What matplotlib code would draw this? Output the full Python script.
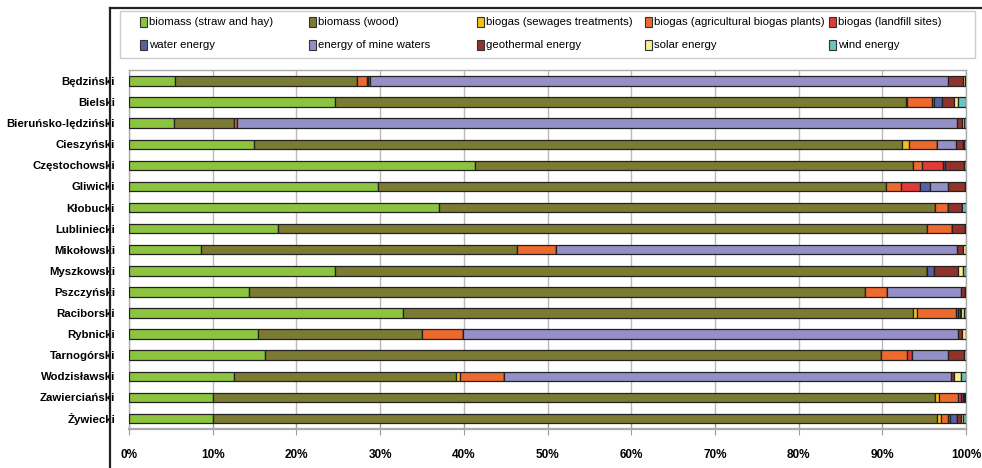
import matplotlib.pyplot as plt
from matplotlib.lines import Line2D
from matplotlib.patches import Rectangle
import numpy as np

plt.rcParams['font.family'] = ['Liberation Sans', 'DejaVu Sans']

# powiaty
districts = ['Będziński', 'Bielski', 'Bieruńsko-lędziński', 'Cieszyński', 'Częstochowski',
             'Gliwicki', 'Kłobucki', 'Lubliniecki', 'Mikołowski', 'Myszkowski', 'Pszczyński',
             'Raciborski', 'Rybnicki', 'Tarnogórski', 'Wodzisławski', 'Zawierciański', 'Żywiecki']

sources = ['biomass (straw and hay)', 'biomass (wood)', 'biogas (sewages treatments)',
           'biogas (agricultural biogas plants)', 'biogas (landfill sites)',
           'water energy', 'energy of mine waters', 'geothermal energy',
           'solar energy', 'wind energy']

colors = ['#8cc43f', '#7b7b33', '#f2c21b', '#ec6a2e', '#e23a36',
          '#5563a6', '#9490c6', '#91332b', '#f4f08c', '#6cc5bf']

# udzial [%] kolejnych zrodel w kazdym powiecie
straw = [5.5, 24.6, 5.4, 14.9, 41.3, 29.8, 37.0, 17.8, 8.6, 24.6, 14.3, 32.7, 15.4, 16.2, 12.5, 10.0, 10.0]
wood = [21.7, 68.2, 7.2, 77.5, 52.4, 60.6, 59.3, 77.6, 37.8, 70.7, 73.6, 61.0, 19.6, 73.6, 26.6, 86.3, 86.5]
sewage = [0, 0.2, 0, 0.8, 0, 0, 0, 0, 0, 0, 0, 0.5, 0, 0, 0.4, 0.5, 0.5]
agric = [1.2, 2.9, 0.3, 3.3, 1.0, 1.8, 1.5, 2.9, 4.6, 0, 2.7, 4.6, 4.9, 3.1, 5.3, 2.2, 0.9]
landfill = [0.2, 0.3, 0, 0, 2.5, 2.3, 0, 0, 0, 0, 0, 0.2, 0, 0.6, 0, 0.4, 0.2]
water = [0.2, 0.9, 0, 0, 0.3, 1.2, 0, 0, 0, 0.9, 0, 0.3, 0, 0, 0, 0.3, 0.8]
mine = [69.1, 0, 86.0, 2.3, 0, 2.1, 0, 0, 47.9, 0, 8.8, 0, 59.2, 4.3, 53.4, 0, 0]
geo = [1.8, 1.5, 0.6, 0.8, 2.3, 2.1, 1.7, 1.6, 0.8, 2.9, 0.5, 0.1, 0.4, 2.0, 0.4, 0.1, 0.5]
solar = [0.2, 0.4, 0.3, 0.2, 0, 0.1, 0, 0, 0.3, 0.6, 0, 0.4, 0.5, 0.2, 0.8, 0.1, 0.2]
wind = [0.1, 1.0, 0.2, 0.2, 0.2, 0, 0.5, 0.1, 0, 0.3, 0.1, 0.2, 0, 0, 0.6, 0.1, 0.4]

series = [straw, wood, sewage, agric, landfill, water, mine, geo, solar, wind]

fig = plt.figure(figsize=(9.82, 4.68), dpi=100)
ax = fig.add_axes([129 / 982, 1 - 429 / 468, 837 / 982, 359 / 468])

y = np.arange(len(districts))
left = np.zeros(len(districts))
for vals, c in zip(series, colors):
    vals = np.array(vals)
    ax.barh(y, vals, left=left, height=0.45, color=c, edgecolor='#222222', linewidth=0.9, zorder=3)
    left += vals

ax.set_xlim(0, 100)
ax.set_ylim(16.5, -0.52)
ax.set_yticks(y)
ax.set_yticklabels(districts, fontsize=8.2, fontweight='bold')
ax.tick_params(axis='y', length=0, pad=10)
ax.set_xticks(np.arange(0, 101, 10))
ax.set_xticklabels([f'{v}%' for v in range(0, 101, 10)], fontsize=8.5, fontweight='bold')
ax.tick_params(axis='x', direction='inout', length=9, color='#999999', pad=10)
ax.grid(axis='x', color='#c0b8b8', linewidth=1, zorder=0)
for s in ax.spines.values():
    s.set_color('#aaaaaa')
    s.set_linewidth(1)
ax.spines['bottom'].set_linewidth(1.6)

# ramka
fig.add_artist(Line2D([110 / 982, 110 / 982], [0, 1 - 8 / 468], color='#222222', linewidth=1.6))
fig.add_artist(Line2D([110 / 982, 1], [1 - 8 / 468, 1 - 8 / 468], color='#222222', linewidth=1.6))

# legenda
fig.add_artist(Rectangle((120 / 982, 1 - 58 / 468), 855 / 982, 47 / 468, transform=fig.transFigure,
                         facecolor='white', edgecolor='#cccccc', linewidth=1))
col_x = [143, 312, 480, 648, 832]
row_y = [22, 45]
for i, (name, c) in enumerate(zip(sources, colors)):
    cx = col_x[i % 5]
    cy = row_y[i // 5]
    fig.add_artist(Rectangle(((cx - 3) / 982, 1 - (cy + 5) / 468), 7 / 982, 10 / 468,
                             transform=fig.transFigure, facecolor=c, edgecolor='#333333', linewidth=0.8))
    fig.text((cx + 6) / 982, 1 - cy / 468, name, fontsize=8.2, va='center', ha='left')

plt.savefig('out.png', dpi=100)
